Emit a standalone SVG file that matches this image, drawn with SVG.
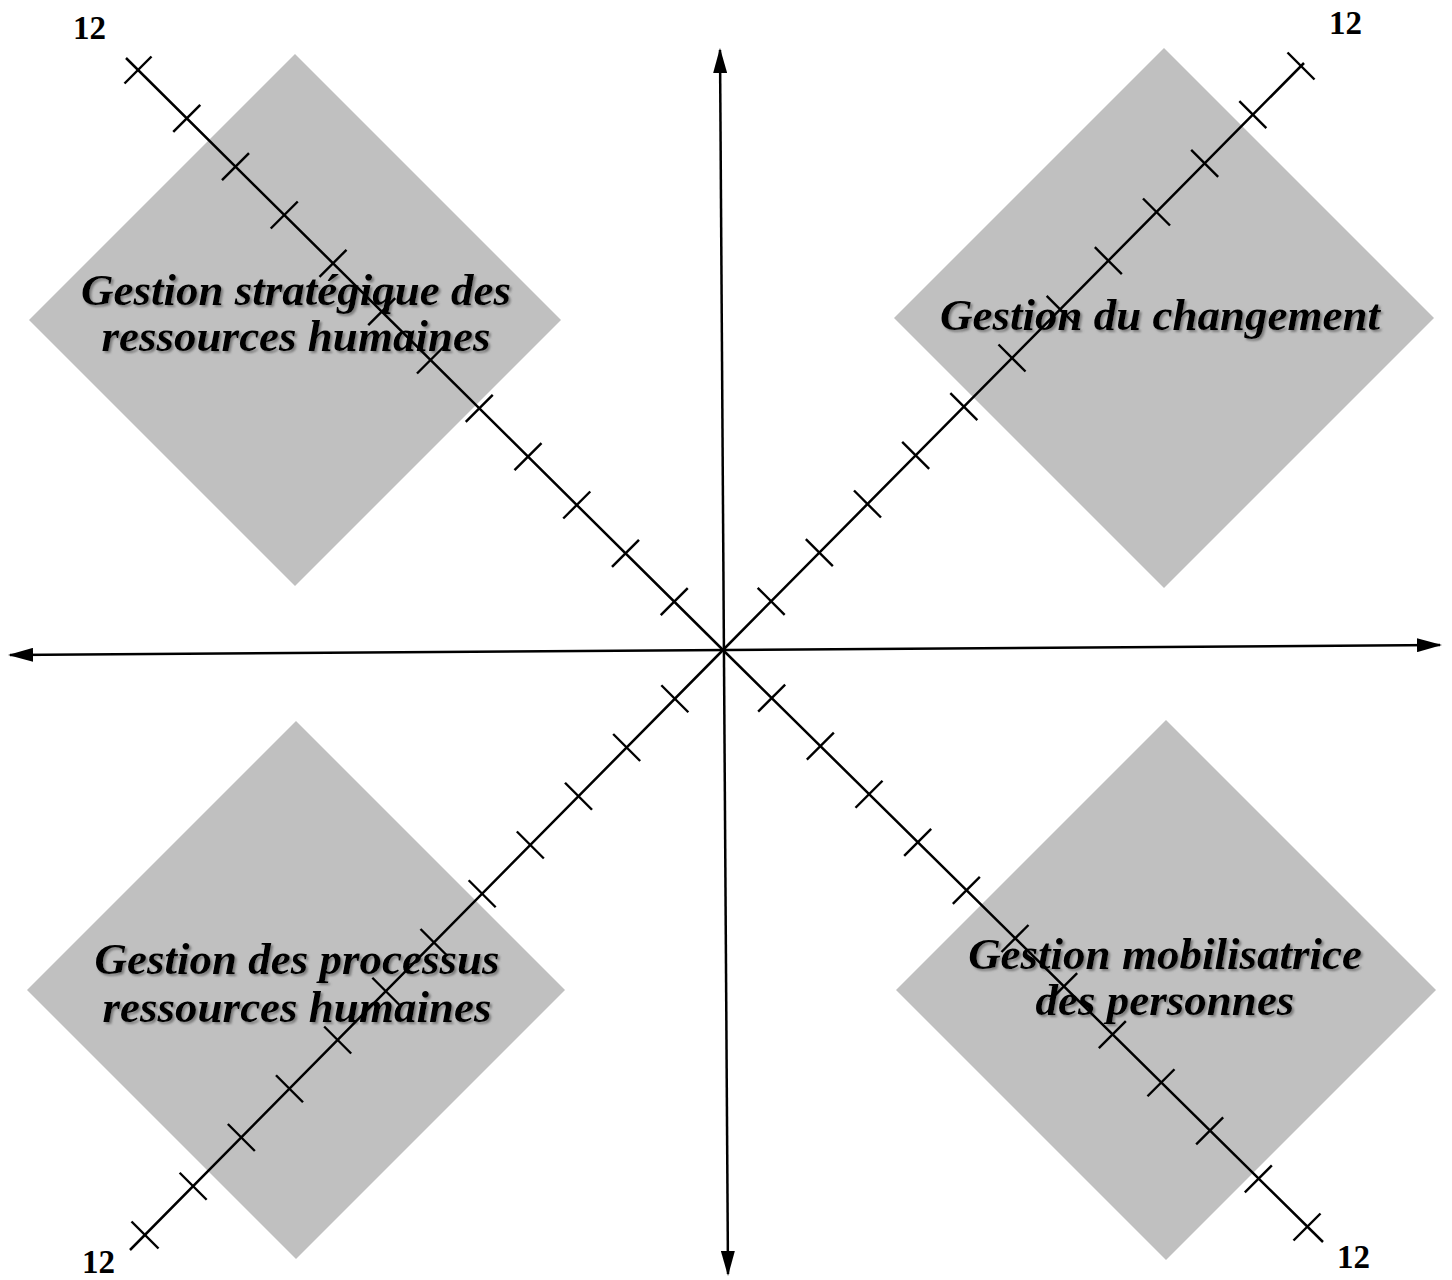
<svg xmlns="http://www.w3.org/2000/svg" xmlns:xlink="http://www.w3.org/1999/xlink" width="1452" height="1280" viewBox="0 0 1452 1280">
  <style>
    .diamond { fill: #c0c0c0; }
    .label { font-family: "Liberation Serif", "Times New Roman", serif; font-weight: bold; font-style: italic; font-size: 45px; fill: #000; text-anchor: middle; filter: url(#shadow); }
    .num { font-family: "Liberation Serif", "Times New Roman", serif; font-weight: bold; font-size: 33px; fill: #000; }
    .axis { stroke: #000; stroke-width: 2.5; fill: none; }
    .tick { stroke: #000; stroke-width: 2.4; fill: none; }
  </style>
  <defs>
    <marker id="arrow" viewBox="0 0 25 14" refX="23" refY="7" markerWidth="25" markerHeight="14" markerUnits="userSpaceOnUse" orient="auto-start-reverse">
      <path d="M0,0 L25,7 L0,14 z" fill="#000"/>
    </marker>
    <filter id="shadow" x="-5%" y="-20%" width="110%" height="140%">
      <feDropShadow dx="2" dy="2" stdDeviation="0.8" flood-color="#6a6a6a" flood-opacity="0.8"/>
    </filter>
    <path id="tA" d="M-13.5,13.5 L13.5,-13.5"/>
    <path id="tB" d="M-13.5,-13.5 L13.5,13.5"/>
  </defs>

  <rect width="1452" height="1280" fill="#fff"/>

  <g id="node-strategique">
    <polygon class="diamond" points="295,54 561,320 295,586 29,320"/>
    <text class="label" x="296" y="305">Gestion stratégique des</text>
    <text class="label" x="296" y="351">ressources humaines</text>
  </g>

  <g id="node-changement">
    <polygon class="diamond" points="1164,48 1434,318 1164,588 894,318"/>
    <text class="label" x="1160" y="330">Gestion du changement</text>
  </g>

  <g id="node-processus">
    <polygon class="diamond" points="296,721 565,990 296,1259 27,990"/>
    <text class="label" x="297" y="974">Gestion des processus</text>
    <text class="label" x="297" y="1022">ressources humaines</text>
  </g>

  <g id="node-mobilisatrice">
    <polygon class="diamond" points="1166,720 1436,990 1166,1260 896,990"/>
    <text class="label" x="1165" y="969">Gestion mobilisatrice</text>
    <text class="label" x="1165" y="1015">des personnes</text>
  </g>

  <g id="connectors">
    <line class="axis" x1="10" y1="655" x2="1440" y2="645" marker-start="url(#arrow)" marker-end="url(#arrow)"/>
    <line class="axis" x1="720" y1="50" x2="728" y2="1274" marker-start="url(#arrow)" marker-end="url(#arrow)"/>
    <polyline class="axis" points="126,58 723,650 1323,1242"/>
    <polyline class="axis" points="1304,63 723,650 130,1250"/>

    <g class="tick">
      <use xlink:href="#tA" x="674.25" y="601.67"/>
      <use xlink:href="#tA" x="625.5" y="553.33"/>
      <use xlink:href="#tA" x="576.75" y="505"/>
      <use xlink:href="#tA" x="528" y="456.67"/>
      <use xlink:href="#tA" x="479.25" y="408.33"/>
      <use xlink:href="#tA" x="430.5" y="360"/>
      <use xlink:href="#tA" x="381.75" y="311.67"/>
      <use xlink:href="#tA" x="333" y="263.33"/>
      <use xlink:href="#tA" x="284.25" y="215"/>
      <use xlink:href="#tA" x="235.5" y="166.67"/>
      <use xlink:href="#tA" x="186.75" y="118.33"/>
      <use xlink:href="#tA" x="138" y="70"/>

      <use xlink:href="#tA" x="771.67" y="698.08"/>
      <use xlink:href="#tA" x="820.33" y="746.17"/>
      <use xlink:href="#tA" x="869" y="794.25"/>
      <use xlink:href="#tA" x="917.67" y="842.33"/>
      <use xlink:href="#tA" x="966.33" y="890.42"/>
      <use xlink:href="#tA" x="1015" y="938.5"/>
      <use xlink:href="#tA" x="1063.67" y="986.58"/>
      <use xlink:href="#tA" x="1112.33" y="1034.67"/>
      <use xlink:href="#tA" x="1161" y="1082.75"/>
      <use xlink:href="#tA" x="1209.67" y="1130.83"/>
      <use xlink:href="#tA" x="1258.33" y="1178.92"/>
      <use xlink:href="#tA" x="1307" y="1227"/>

      <use xlink:href="#tB" x="771.17" y="601.33"/>
      <use xlink:href="#tB" x="819.33" y="552.67"/>
      <use xlink:href="#tB" x="867.5" y="504"/>
      <use xlink:href="#tB" x="915.67" y="455.33"/>
      <use xlink:href="#tB" x="963.83" y="406.67"/>
      <use xlink:href="#tB" x="1012" y="358"/>
      <use xlink:href="#tB" x="1060.17" y="309.33"/>
      <use xlink:href="#tB" x="1108.33" y="260.67"/>
      <use xlink:href="#tB" x="1156.5" y="212"/>
      <use xlink:href="#tB" x="1204.67" y="163.33"/>
      <use xlink:href="#tB" x="1252.83" y="114.67"/>
      <use xlink:href="#tB" x="1301" y="66"/>

      <use xlink:href="#tB" x="674.83" y="698.75"/>
      <use xlink:href="#tB" x="626.67" y="747.5"/>
      <use xlink:href="#tB" x="578.5" y="796.25"/>
      <use xlink:href="#tB" x="530.33" y="845"/>
      <use xlink:href="#tB" x="482.17" y="893.75"/>
      <use xlink:href="#tB" x="434" y="942.5"/>
      <use xlink:href="#tB" x="385.83" y="991.25"/>
      <use xlink:href="#tB" x="337.67" y="1040"/>
      <use xlink:href="#tB" x="289.5" y="1088.75"/>
      <use xlink:href="#tB" x="241.33" y="1137.5"/>
      <use xlink:href="#tB" x="193.17" y="1186.25"/>
      <use xlink:href="#tB" x="145" y="1235"/>
    </g>
  </g>

  <g id="scale-labels">
    <text class="num" x="73" y="39">12</text>
    <text class="num" x="1329" y="34">12</text>
    <text class="num" x="82" y="1273">12</text>
    <text class="num" x="1337" y="1268">12</text>
  </g>
</svg>
